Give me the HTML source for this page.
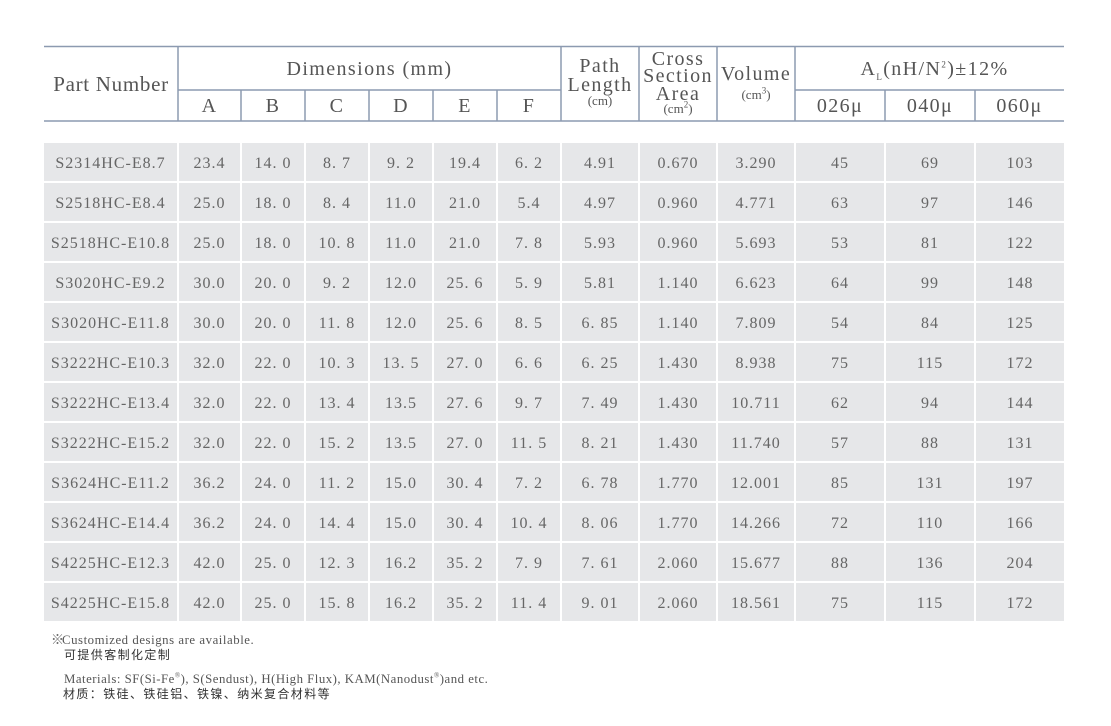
<!DOCTYPE html>
<html><head><meta charset="utf-8">
<style>
html,body{margin:0;padding:0;background:#fff;}
body{width:1111px;height:726px;position:relative;overflow:hidden;font-family:"Liberation Serif","Noto Serif CJK SC",serif;}
.t{position:absolute;white-space:nowrap;text-align:center;color:#555;}
.h20{font-size:20px;line-height:20px;letter-spacing:1.4px;}
.s13{font-size:13px;line-height:13px;color:#555;}
.row{position:absolute;left:0;width:1111px;height:38px;}
.row span{position:absolute;top:0;height:38px;line-height:41px;background:#e6e7e9;text-align:center;font-size:16px;color:#666;letter-spacing:1px;white-space:nowrap;overflow:visible;}
.c0{left:44px;width:133px}
.c1{left:179px;width:61px}
.c2{left:242px;width:62px}
.c3{left:306px;width:62px}
.c4{left:370px;width:62px}
.c5{left:434px;width:62px}
.c6{left:498px;width:62px}
.c7{left:562px;width:76px}
.c8{left:640px;width:76px}
.c9{left:718px;width:76px}
.c10{left:796px;width:88px}
.c11{left:886px;width:88px}
.c12{left:976px;width:88px}
.foot{position:absolute;white-space:nowrap;color:#555;}
.cn{font-family:"Liberation Sans","Noto Sans CJK SC",sans-serif;color:#333;font-size:12px;letter-spacing:1.4px;}
sup,sub{font-size:9px;line-height:0;}
.foot sup{font-size:7px;}
</style></head><body>
<svg width="1111" height="726" style="position:absolute;left:0;top:0" xmlns="http://www.w3.org/2000/svg">
<g stroke="#8c9ab0" stroke-width="1.5" fill="none">
<line x1="44" y1="46.5" x2="1064" y2="46.5"/>
<line x1="178" y1="90" x2="561" y2="90"/>
<line x1="795" y1="90" x2="1064" y2="90"/>
<line x1="44" y1="121" x2="1064" y2="121"/>
<line x1="178" y1="46" x2="178" y2="121"/>
<line x1="241" y1="90" x2="241" y2="121"/>
<line x1="305" y1="90" x2="305" y2="121"/>
<line x1="369" y1="90" x2="369" y2="121"/>
<line x1="433" y1="90" x2="433" y2="121"/>
<line x1="497" y1="90" x2="497" y2="121"/>
<line x1="561" y1="46" x2="561" y2="121"/>
<line x1="639" y1="46" x2="639" y2="121"/>
<line x1="717" y1="46" x2="717" y2="121"/>
<line x1="795" y1="46" x2="795" y2="121"/>
<line x1="885" y1="90" x2="885" y2="121"/>
<line x1="975" y1="90" x2="975" y2="121"/>
</g></svg>

<div class="t" style="left:44px;width:134px;top:74px;font-size:21px;line-height:21px;letter-spacing:0.7px;">Part Number</div>
<div class="t h20" style="left:178px;width:383px;top:59px;">Dimensions (mm)</div>
<div class="t h20" style="left:178px;width:63px;top:96px;">A</div>
<div class="t h20" style="left:241px;width:64px;top:96px;">B</div>
<div class="t h20" style="left:305px;width:64px;top:96px;">C</div>
<div class="t h20" style="left:369px;width:64px;top:96px;">D</div>
<div class="t h20" style="left:433px;width:64px;top:96px;">E</div>
<div class="t h20" style="left:497px;width:64px;top:96px;">F</div>

<div class="t h20" style="left:561px;width:78px;top:55.5px;">Path</div>
<div class="t h20" style="left:561px;width:78px;top:75px;">Length</div>
<div class="t s13" style="left:561px;width:78px;top:94px;">(cm)</div>

<div class="t h20" style="left:639px;width:78px;top:48.5px;">Cross</div>
<div class="t h20" style="left:639px;width:78px;top:66px;">Section</div>
<div class="t h20" style="left:639px;width:78px;top:83.5px;">Area</div>
<div class="t s13" style="left:639px;width:78px;top:102px;">(cm<sup>2</sup>)</div>

<div class="t h20" style="left:717px;width:78px;top:63.5px;">Volume</div>
<div class="t s13" style="left:717px;width:78px;top:88px;">(cm<sup>3</sup>)</div>

<div class="t h20" style="left:800px;width:269px;top:59px;">A<sub>L</sub>(nH/N<sup>2</sup>)±12%</div>
<div class="t h20" style="left:795px;width:90px;top:96px;">026μ</div>
<div class="t h20" style="left:885px;width:90px;top:96px;">040μ</div>
<div class="t h20" style="left:975px;width:89px;top:96px;">060μ</div>

<div class="row" style="top:143px"><span class="c0">S2314HC-E8.7</span><span class="c1">23.4</span><span class="c2">14. 0</span><span class="c3">8. 7</span><span class="c4">9. 2</span><span class="c5">19.4</span><span class="c6">6. 2</span><span class="c7">4.91</span><span class="c8">0.670</span><span class="c9">3.290</span><span class="c10">45</span><span class="c11">69</span><span class="c12">103</span></div>
<div class="row" style="top:183px"><span class="c0">S2518HC-E8.4</span><span class="c1">25.0</span><span class="c2">18. 0</span><span class="c3">8. 4</span><span class="c4">11.0</span><span class="c5">21.0</span><span class="c6">5.4</span><span class="c7">4.97</span><span class="c8">0.960</span><span class="c9">4.771</span><span class="c10">63</span><span class="c11">97</span><span class="c12">146</span></div>
<div class="row" style="top:223px"><span class="c0">S2518HC-E10.8</span><span class="c1">25.0</span><span class="c2">18. 0</span><span class="c3">10. 8</span><span class="c4">11.0</span><span class="c5">21.0</span><span class="c6">7. 8</span><span class="c7">5.93</span><span class="c8">0.960</span><span class="c9">5.693</span><span class="c10">53</span><span class="c11">81</span><span class="c12">122</span></div>
<div class="row" style="top:263px"><span class="c0">S3020HC-E9.2</span><span class="c1">30.0</span><span class="c2">20. 0</span><span class="c3">9. 2</span><span class="c4">12.0</span><span class="c5">25. 6</span><span class="c6">5. 9</span><span class="c7">5.81</span><span class="c8">1.140</span><span class="c9">6.623</span><span class="c10">64</span><span class="c11">99</span><span class="c12">148</span></div>
<div class="row" style="top:303px"><span class="c0">S3020HC-E11.8</span><span class="c1">30.0</span><span class="c2">20. 0</span><span class="c3">11. 8</span><span class="c4">12.0</span><span class="c5">25. 6</span><span class="c6">8. 5</span><span class="c7">6. 85</span><span class="c8">1.140</span><span class="c9">7.809</span><span class="c10">54</span><span class="c11">84</span><span class="c12">125</span></div>
<div class="row" style="top:343px"><span class="c0">S3222HC-E10.3</span><span class="c1">32.0</span><span class="c2">22. 0</span><span class="c3">10. 3</span><span class="c4">13. 5</span><span class="c5">27. 0</span><span class="c6">6. 6</span><span class="c7">6. 25</span><span class="c8">1.430</span><span class="c9">8.938</span><span class="c10">75</span><span class="c11">115</span><span class="c12">172</span></div>
<div class="row" style="top:383px"><span class="c0">S3222HC-E13.4</span><span class="c1">32.0</span><span class="c2">22. 0</span><span class="c3">13. 4</span><span class="c4">13.5</span><span class="c5">27. 6</span><span class="c6">9. 7</span><span class="c7">7. 49</span><span class="c8">1.430</span><span class="c9">10.711</span><span class="c10">62</span><span class="c11">94</span><span class="c12">144</span></div>
<div class="row" style="top:423px"><span class="c0">S3222HC-E15.2</span><span class="c1">32.0</span><span class="c2">22. 0</span><span class="c3">15. 2</span><span class="c4">13.5</span><span class="c5">27. 0</span><span class="c6">11. 5</span><span class="c7">8. 21</span><span class="c8">1.430</span><span class="c9">11.740</span><span class="c10">57</span><span class="c11">88</span><span class="c12">131</span></div>
<div class="row" style="top:463px"><span class="c0">S3624HC-E11.2</span><span class="c1">36.2</span><span class="c2">24. 0</span><span class="c3">11. 2</span><span class="c4">15.0</span><span class="c5">30. 4</span><span class="c6">7. 2</span><span class="c7">6. 78</span><span class="c8">1.770</span><span class="c9">12.001</span><span class="c10">85</span><span class="c11">131</span><span class="c12">197</span></div>
<div class="row" style="top:503px"><span class="c0">S3624HC-E14.4</span><span class="c1">36.2</span><span class="c2">24. 0</span><span class="c3">14. 4</span><span class="c4">15.0</span><span class="c5">30. 4</span><span class="c6">10. 4</span><span class="c7">8. 06</span><span class="c8">1.770</span><span class="c9">14.266</span><span class="c10">72</span><span class="c11">110</span><span class="c12">166</span></div>
<div class="row" style="top:543px"><span class="c0">S4225HC-E12.3</span><span class="c1">42.0</span><span class="c2">25. 0</span><span class="c3">12. 3</span><span class="c4">16.2</span><span class="c5">35. 2</span><span class="c6">7. 9</span><span class="c7">7. 61</span><span class="c8">2.060</span><span class="c9">15.677</span><span class="c10">88</span><span class="c11">136</span><span class="c12">204</span></div>
<div class="row" style="top:583px"><span class="c0">S4225HC-E15.8</span><span class="c1">42.0</span><span class="c2">25. 0</span><span class="c3">15. 8</span><span class="c4">16.2</span><span class="c5">35. 2</span><span class="c6">11. 4</span><span class="c7">9. 01</span><span class="c8">2.060</span><span class="c9">18.561</span><span class="c10">75</span><span class="c11">115</span><span class="c12">172</span></div>

<div class="foot" style="left:51px;top:633px;font-size:13px;line-height:14px;font-family:'Liberation Sans','Noto Sans CJK SC',sans-serif;color:#666;">※</div>
<div class="foot" style="left:62px;top:633px;font-size:12.8px;line-height:14px;letter-spacing:0.55px;">Customized designs are available.</div>
<div class="foot cn" style="left:64px;top:648px;line-height:14px;">可提供客制化定制</div>
<div class="foot" style="left:64px;top:672px;font-size:12.8px;line-height:14px;letter-spacing:0.5px;">Materials: SF(Si-Fe<sup>®</sup>), S(Sendust), H(High Flux), KAM(Nanodust<sup>®</sup>)and etc.</div>
<div class="foot cn" style="left:63px;top:687px;line-height:14px;">材质：铁硅、铁硅铝、铁镍、纳米复合材料等</div>
</body></html>
